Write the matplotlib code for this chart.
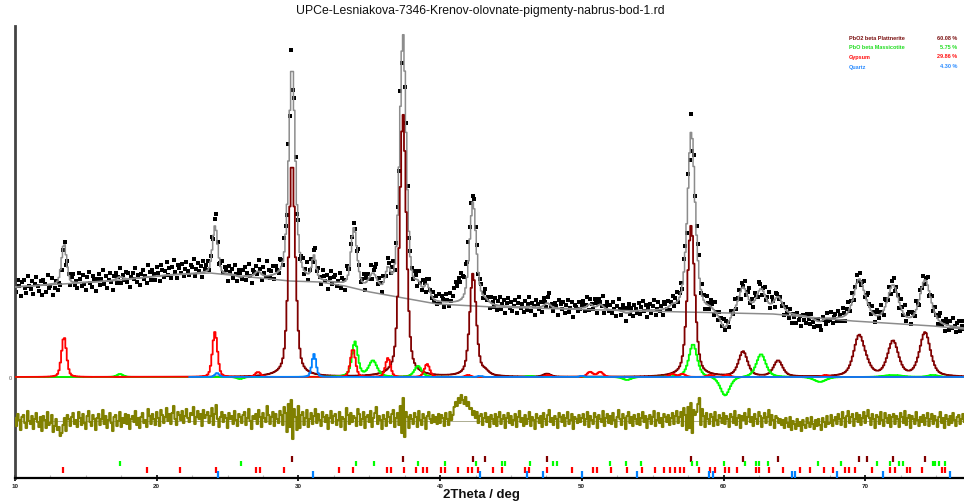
import numpy as np
import matplotlib
matplotlib.use("Agg")
import matplotlib.pyplot as plt

plt.rcParams['font.family'] = ['Liberation Sans', 'DejaVu Sans']

TITLE = "UPCe-Lesniakova-7346-Krenov-olovnate-pigmenty-nabrus-bod-1.rd"
X_LABEL = "2Theta / deg"

# scan range
TT_START = 10.0
TT_STEP = 0.1

# background knots (2theta, counts)
bg_tt = [10.0, 16.7, 20.94, 23.76, 26.58, 29.4, 31.52, 33.29, 35.05, 39.78,
         43.73, 54.11, 63.49, 69.14, 74.79, 76.97]
bg_counts = [900, 960, 1020, 1040, 1000, 960, 950, 910, 850, 730,
             700, 660, 630, 560, 510, 480]

# phase peak tables: position (deg), height (counts), FWHM (deg)
plat_pos = [29.55, 37.38, 42.32, 43.17, 47.54, 57.71, 61.38, 63.85, 69.56, 70.13, 71.96, 74.22]
plat_h = [2150, 2630, 1030, 40, 30, 1510, 250, 160, 400, 50, 350, 440]
plat_w = [0.55, 0.55, 0.55, 0.6, 0.6, 0.62, 0.75, 0.75, 0.9, 0.8, 0.9, 0.9]

mass_pos = [17.41, 25.88, 33.99, 35.26, 38.44, 46.34, 53.19, 57.85, 60.11, 62.65, 66.81, 71.96, 74.78]
mass_h = [30, -20, 350, 160, 110, 10, -30, 330, -190, 230, -50, 20, 20]
mass_w = [0.5, 0.5, 0.5, 0.7, 0.6, 0.6, 0.7, 0.7, 0.8, 0.8, 1.0, 1.5, 0.8]

gyps_pos = [13.46, 24.11, 27.15, 33.85, 36.32, 39.08, 41.97, 47.60, 50.58, 51.30,
            56.40, 57.10, 59.05, 60.25, 67.20]
gyps_h = [400, 450, 50, 280, 190, 130, 20, 20, 50, 50, 30, 30, 20, 20, 20]
gyps_w = [0.42, 0.42, 0.45, 0.42, 0.42, 0.45, 0.4, 0.4, 0.5, 0.5, 0.5, 0.5, 0.5, 0.5, 0.5]

qtz_pos = [24.26, 31.10, 42.82, 50.01]
qtz_h = [40, 230, 10, 10]
qtz_w = [0.35, 0.35, 0.4, 0.4]
QTZ_FROM = 22.3

# residual obs - calc (counts)
resid = [
    30, -50, 70, 10, -90, 40, 60, -20, -70, 100, 0, -30, 50, -80, 20, 80, -10, -60, 40, -100,
    50, 10, -70, 90, -40, -20, 60, -110, -50, 20, -90, -60, -150, -120, -40, 30, -100, 60, 20, -50,
    40, 80, -30, 10, -60, 90, 30, -40, 70, -20, -80, 50, 100, -10, -50, 60, 20, -90, 30, 70,
    -40, 20, 110, -30, 50, -70, 10, 80, -20, -100, 40, 60, -50, 0, 90, -60, 30, -20, 70, -30,
    60, -80, 20, 50, -10, 100, -40, 30, -70, 40, 80, -20, 10, -60, 120, 50, -30, 70, 20, -40,
    90, 30, -50, 110, 60, -20, 40, 130, 0, 70, -30, 80, 150, 20, -40, 90, 60, 10, 100, -20,
    50, 120, 30, -10, 80, 60, 140, -30, 40, 100, 20, 70, -50, 110, 30, 60, 90, -20, 50, 130,
    -40, 70, 160, 20, -60, 40, 90, -10, 60, 30, -70, 80, 20, 50, -30, 100, 10, -50, 70, 40,
    -20, 60, 90, -40, 30, 120, 0, -80, 50, 20, 70, -30, 110, 40, -60, 80, 30, -10, 150, 60,
    -30, 40, 90, -50, 70, 20, -20, 100, 60, -40, 140, 80, -110, 170, -60, 210, -180, 120, 40, -90,
    150, -70, 60, 90, -40, 30, 110, -60, 20, 80, -30, 50, 120, -20, 70, 10, -50, 90, 40, -10,
    60, -80, 30, 100, -20, 50, 70, -40, 10, 90, -60, 40, 20, -90, 130, 60, -30, 80, -10, 50,
    30, -50, 120, 70, -40, 20, 90, -70, 40, 60, -10, 100, -60, 30, 80, 140, -30, 50, 10, -80,
    60, 20, -50, 90, 40, -20, 70, 110, -60, 30, 80, -40, 150, -120, 230, -160, 90, 40, -70, 60,
    20, -30, 80, 40, -60, 100, 10, -40, 70, 30, -80, 50, 90, 20, -20, 60, -10, 40, -30, 70,
    -20, 60, 30, -50, 80, 20, -40, 90, 10, 60, 140, 190, 150, 230, 180, 260, 210, 170, 240, 150,
    190, 120, 130, 60, 100, 30, 90, -20, 50, 70, -40, 30, 80, -10, 40, -60, 60, 20, -30, 70,
    -50, 40, 90, -30, 20, 60, -70, 30, 80, -20, 50, -40, 10, 70, -60, 40, 100, -10, 30, -50,
    60, -30, 20, 90, -50, 40, 10, -80, 70, 30, -20, 50, -60, 80, 20, -40, 60, 110, -10, 30,
    -40, 50, 20, -70, 80, 40, -10, 60, -50, 30, 90, -30, 10, 70, -80, 40, 20, -20, 60, -10,
    30, 70, -40, 20, 90, -60, 50, 10, -30, 80, 40, -70, 60, 20, -10, 100, -50, 30, 70, -20,
    50, -30, 80, 10, -60, 40, 110, 20, -40, 70, 30, -80, 50, 90, -20, 40, -50, 60, 20, -30,
    70, -40, 30, 90, -10, 50, -70, 20, 60, -30, 40, 100, -50, 10, 80, -20, 30, -60, 70, 40,
    -10, 60, -40, 30, 80, -30, 50, 100, -20, 40, 90, -50, 130, 60, -90, 140, -70, 180, -120, 110,
    60, 90, 170, 230, -40, 120, 50, -60, 80, 20, -30, 70, 40, -50, 90, 10, -40, 60, 30, -20,
    80, -30, 50, 20, -60, 70, 40, -20, 100, -40, 30, 60, -70, 50, 10, 80, -30, 40, 120, -10,
    40, -50, 70, 20, -30, 90, 50, -60, 30, 80, -20, 40, 110, -40, 60, 10, -70, 50, 30, -20,
    20, -40, 10, -70, 30, -20, -60, 40, -90, 0, -30, -80, 20, -50, -10, -100, 10, -40, -70, 30,
    -20, -60, 40, -30, -80, 10, -50, 20, -40, -90, 30, -10, -60, 50, -30, -20, 60, -50, 10, 40,
    -30, 70, 20, -40, 90, 30, -60, 50, 100, -20, 40, 70, -50, 20, 80, -10, 60, -40, 30, 90,
    -20, 50, 110, 30, -40, 70, 20, -70, 60, 40, -30, 90, 10, -50, 80, 30, -20, 60, -60, 40,
    70, -30, 50, 20, -60, 80, 40, -20, 100, -40, 30, 60, -70, 50, 20, -30, 90, 10, -50, 40,
    -10, 60, -40, 30, 80, -50, 20, 70, -30, 50, 10, -60, 40, 90, -20, 30, -70, 60, 20, -40,
    50, -20, 80, 10, -50, 40, 60, -30, 20, 70, -10,
]
DIFF_OFFSET = -440

# reflection markers
plat_ticks = [29.55, 37.38, 42.32, 43.17, 47.54, 57.71, 61.38, 63.85, 69.56, 70.13, 71.96, 74.22]
mass_ticks = [17.41, 25.93, 34.04, 35.34, 38.42, 40.35, 42.53, 44.35, 44.58, 46.34, 47.97, 48.25,
              51.99, 53.12, 54.18, 57.78, 58.13, 60.04, 61.52, 62.29, 62.51, 63.14, 66.67, 68.29,
              70.83, 71.75, 72.38, 72.67, 74.79, 74.93, 75.21, 75.64]
gyps_ticks = [13.39, 19.29, 21.64, 24.18, 27.01, 27.29, 28.98, 32.87, 33.85, 36.25, 36.53, 37.45,
              38.30, 38.79, 39.08, 40.06, 40.35, 41.24, 41.97, 42.24, 42.68, 43.73, 44.37, 45.99,
              46.27, 47.54, 49.31, 50.79, 51.07, 52.06, 53.19, 54.25, 55.17, 55.80, 56.22, 56.58,
              56.93, 57.22, 58.28, 59.05, 59.40, 60.11, 60.39, 60.95, 62.29, 62.51, 63.21, 64.20,
              65.40, 66.10, 67.09, 67.73, 68.57, 68.86, 69.28, 70.48, 71.75, 72.10, 72.95, 73.16,
              74.01, 75.42, 75.64]
qtz_ticks = [24.33, 31.03, 42.82, 46.13, 47.26, 50.01, 53.90, 58.98, 59.26, 64.83, 65.05,
             68.01, 71.26, 75.98]

phase_names = ["PbO2 beta Plattnerite", "PbO beta Massicotite", "Gypsum", "Quartz"]
phase_pct = ["60.08 %", "5.75 %", "29.86 %", "4.30 %"]
phase_colors = ["#800000", "#00ff00", "#ff0000", "#0080ff"]
label_colors = ["#7a1010", "#22dd22", "#ff1010", "#2b8cff"]
tick_rows = [(-790, -850), (-840, -890), (-900, -960), (-940, -1005)]

x_ticks = [10, 20, 30, 40, 50, 60, 70]


def profile(tt, pos, h, w, eta=0.5):
    out = np.zeros_like(tt)
    for p, a, fw in zip(pos, h, w):
        u = (tt - p) / fw
        out += a * (eta / (1 + 4 * u ** 2) + (1 - eta) * np.exp(-4 * np.log(2) * u ** 2))
    return out


tt = TT_START + TT_STEP * np.arange(len(resid))
res = np.array(resid, dtype=float)

plat = profile(tt, plat_pos, plat_h, plat_w)
mass = profile(tt, mass_pos, mass_h, mass_w)
gyps = profile(tt, gyps_pos, gyps_h, gyps_w, eta=0.3)
qtz = profile(tt, qtz_pos, qtz_h, qtz_w, eta=0.3)
bg = np.interp(tt, bg_tt, bg_counts)
calc = bg + plat + mass + gyps + qtz
obs = calc + res

fig = plt.figure(figsize=(9.64, 5.02), dpi=100)
ax = fig.add_axes([15 / 964, 23 / 502, 949 / 964, 452 / 502])

ax.plot(tt, obs, 's', ms=2.9, mew=0, color='black', zorder=2)
ax.plot(tt, calc, color='#8c8c8c', lw=1.1, drawstyle='steps-mid', zorder=3)
ax.plot(bg_tt, bg_counts, color='#8c8c8c', lw=1.1, zorder=3)

ax.plot(tt, plat, color=phase_colors[0], lw=1.3, drawstyle='steps-mid', zorder=4)
ax.plot(tt, mass, color=phase_colors[1], lw=1.3, drawstyle='steps-mid', zorder=5)
ax.plot(tt, gyps, color=phase_colors[2], lw=1.3, drawstyle='steps-mid', zorder=6)
qm = tt >= QTZ_FROM
ax.plot(tt[qm], qtz[qm], color=phase_colors[3], lw=1.3, drawstyle='steps-mid', zorder=7)

ax.axhline(DIFF_OFFSET, color='#a0a080', lw=0.6, zorder=3)
ax.plot(tt, res + DIFF_OFFSET, color='#808000', lw=1.5, drawstyle='steps-mid', zorder=4)

for ticks, col, (y0, y1) in zip([plat_ticks, mass_ticks, gyps_ticks, qtz_ticks],
                                phase_colors, tick_rows):
    ax.vlines(ticks, y0, y1, colors=col, lw=1.6, zorder=5)

ax.set_xlim(10, 76.97)
ax.set_ylim(-1010, 3510)

for s in ('top', 'right'):
    ax.spines[s].set_visible(False)
ax.spines['left'].set_color('#444444')
ax.spines['left'].set_linewidth(2.0)
ax.spines['bottom'].set_color('black')
ax.spines['bottom'].set_linewidth(1.6)

ax.set_xticks(x_ticks)
ax.set_xticklabels([str(v) for v in x_ticks], fontsize=4.5, fontweight='bold', color='#222222')
ax.set_xticks(np.arange(12.5, 77, 2.5), minor=True)
ax.tick_params(axis='x', which='major', direction='inout', length=5, width=1.2, pad=1)
ax.tick_params(axis='x', which='minor', direction='in', length=2, width=0.8, colors='#bbbbbb')

ax.set_yticks([0])
ax.set_yticklabels(['0'], fontsize=4, color='#555555')
ax.tick_params(axis='y', length=0, pad=2)

fig.text(480 / 964, 1 - 11 / 502, TITLE, ha='center', va='center', fontsize=8.8, color='#111111')
fig.text(481 / 964, 1 - 495 / 502, X_LABEL, ha='center', va='center', fontsize=9.5,
         fontweight='bold', color='#111111')

label_y = [38, 47.5, 57, 67]
for name, pct, col, y in zip(phase_names, phase_pct, label_colors, label_y):
    fig.text(849 / 964, 1 - y / 502, name, ha='left', va='center', fontsize=4,
             fontweight='bold', color=col)
    fig.text(957 / 964, 1 - y / 502, pct, ha='right', va='center', fontsize=4,
             fontweight='bold', color=col)

fig.savefig('out.png', dpi=100)
